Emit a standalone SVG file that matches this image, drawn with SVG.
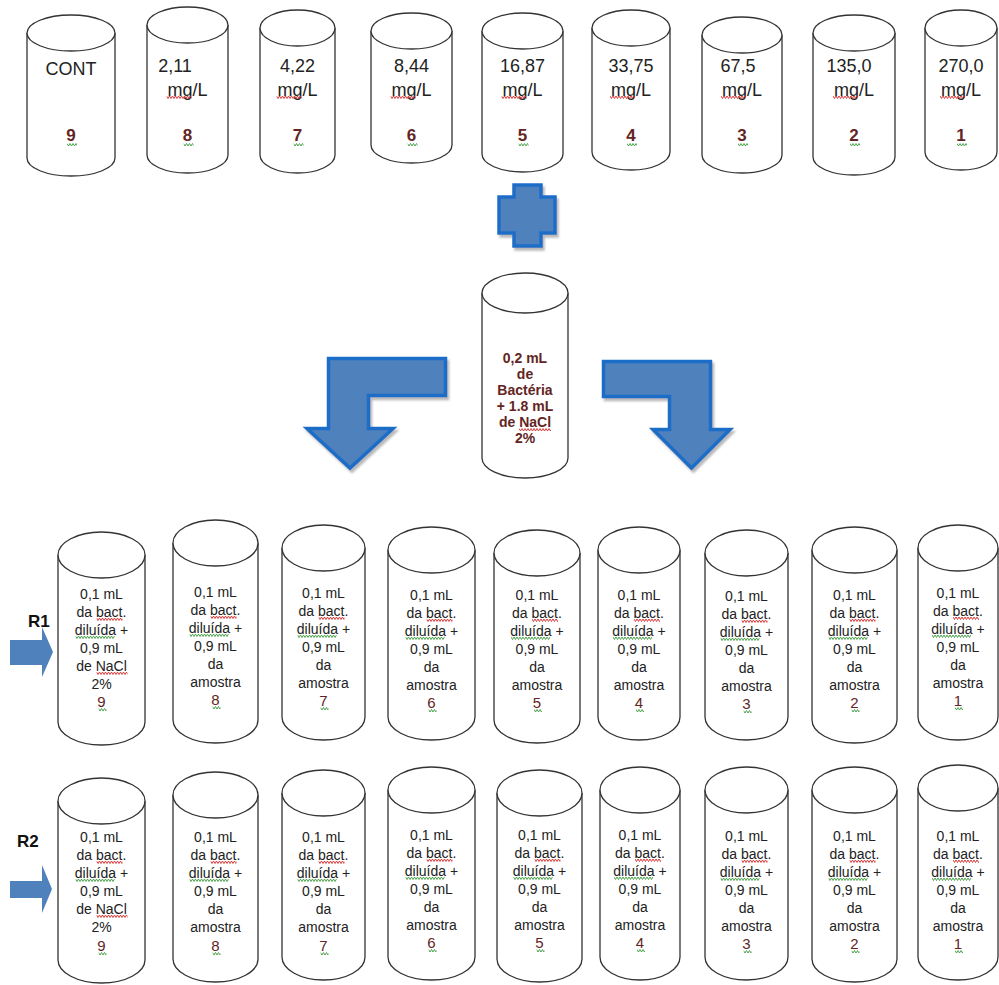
<svg xmlns="http://www.w3.org/2000/svg" xmlns:xlink="http://www.w3.org/1999/xlink" width="999" height="985" viewBox="0 0 999 985">
<style>
.cyl path,.cyl ellipse{fill:#fff;stroke:#333;stroke-width:1.3}
.t{font-family:"Liberation Sans",Arial,sans-serif;fill:#222;text-anchor:middle}
.top{font-size:18px}
.r{font-size:14px}
.num{font-family:"Liberation Sans",Arial,sans-serif;fill:#632523;text-anchor:middle}
.numb{font-size:17px;font-weight:bold}
.numr{font-size:15px}
.mid{font-family:"Liberation Sans",Arial,sans-serif;fill:#632523;text-anchor:middle;font-size:14px;font-weight:bold}
.lbl{font-family:"Liberation Sans",Arial,sans-serif;fill:#111;font-size:17px;font-weight:bold}
.blk{fill:#4f81bd;stroke:#1f6dc7;stroke-width:3.5;stroke-linejoin:miter;filter:url(#sh)}
.rar{fill:#4f81bd}
.sr{stroke:#d62828}
.sg{stroke:#3c9a3c}
</style>
<defs>
<filter id="sh" x="-20%" y="-20%" width="140%" height="140%"><feDropShadow dx="2" dy="3" stdDeviation="1.2" flood-color="#7f7f7f" flood-opacity="0.55"/></filter>
<path id="zz" fill="none" stroke-width="0.9" d="M0,0.5 l1.5,2.5 1.5,-2.5 1.5,2.5 1.5,-2.5 1.5,2.5 1.5,-2.5 1.5,2.5 1.5,-2.5 1.5,2.5 1.5,-2.5 1.5,2.5 1.5,-2.5 1.5,2.5 1.5,-2.5 1.5,2.5 1.5,-2.5 1.5,2.5 1.5,-2.5 1.5,2.5 1.5,-2.5 1.5,2.5 1.5,-2.5 1.5,2.5 1.5,-2.5 1.5,2.5 1.5,-2.5 1.5,2.5 1.5,-2.5 1.5,2.5 1.5,-2.5 1.5,2.5 1.5,-2.5 1.5,2.5 1.5,-2.5 1.5,2.5 1.5,-2.5 1.5,2.5 1.5,-2.5 1.5,2.5 1.5,-2.5"/>
</defs>
<rect width="999" height="985" fill="#fff"/>

<!-- top row -->
<g id="top9" class="cyl"><path d="M27,33 V158 A44,18 0 0 0 115,158 V33"/><ellipse cx="71" cy="33" rx="44" ry="18"/>
<text class="t top" x="71" y="75">CONT</text><text class="num numb" x="71" y="141">9</text>
<svg x="67" y="143" width="10" height="4"><use href="#zz" class="sg"/></svg></g>
<g id="top8" class="cyl"><path d="M147,25 V155 A40.5,18 0 0 0 228,155 V25"/><ellipse cx="187.5" cy="25" rx="40.5" ry="18"/>
<text class="t top" x="175" y="72">2,11</text><text class="t top" x="187.5" y="96">mg/L</text><text class="num numb" x="187.5" y="141">8</text>
<svg x="166.5" y="95.5" width="25" height="4"><use href="#zz" class="sr"/></svg><svg x="183.5" y="143" width="10" height="4"><use href="#zz" class="sg"/></svg></g>
<g id="top7" class="cyl"><path d="M260,28 V155 A37.5,18 0 0 0 335,155 V28"/><ellipse cx="297.5" cy="28" rx="37.5" ry="18"/>
<text class="t top" x="297.5" y="72">4,22</text><text class="t top" x="297.5" y="96">mg/L</text><text class="num numb" x="297.5" y="141">7</text>
<svg x="276.5" y="95.5" width="25" height="4"><use href="#zz" class="sr"/></svg><svg x="293.5" y="143" width="10" height="4"><use href="#zz" class="sg"/></svg></g>
<g id="top6" class="cyl"><path d="M371,31 V145 A40.5,18 0 0 0 452,145 V31"/><ellipse cx="411.5" cy="31" rx="40.5" ry="18"/>
<text class="t top" x="411.5" y="72">8,44</text><text class="t top" x="411.5" y="96">mg/L</text><text class="num numb" x="411.5" y="141">6</text>
<svg x="390.5" y="95.5" width="25" height="4"><use href="#zz" class="sr"/></svg><svg x="407.5" y="143" width="10" height="4"><use href="#zz" class="sg"/></svg></g>
<g id="top5" class="cyl"><path d="M482,31 V154 A40.5,18 0 0 0 563,154 V31"/><ellipse cx="522.5" cy="31" rx="40.5" ry="18"/>
<text class="t top" x="522.5" y="72">16,87</text><text class="t top" x="522.5" y="96">mg/L</text><text class="num numb" x="522.5" y="141">5</text>
<svg x="501.5" y="95.5" width="25" height="4"><use href="#zz" class="sr"/></svg><svg x="518.5" y="143" width="10" height="4"><use href="#zz" class="sg"/></svg></g>
<g id="top4" class="cyl"><path d="M592,28 V152 A39,18 0 0 0 670,152 V28"/><ellipse cx="631" cy="28" rx="39" ry="18"/>
<text class="t top" x="631" y="72">33,75</text><text class="t top" x="631" y="96">mg/L</text><text class="num numb" x="631" y="141">4</text>
<svg x="610" y="95.5" width="25" height="4"><use href="#zz" class="sr"/></svg><svg x="627" y="143" width="10" height="4"><use href="#zz" class="sg"/></svg></g>
<g id="top3" class="cyl"><path d="M702,35 V155 A40,18 0 0 0 782,155 V35"/><ellipse cx="742" cy="35" rx="40" ry="18"/>
<text class="t top" x="738" y="72">67,5</text><text class="t top" x="742" y="96">mg/L</text><text class="num numb" x="742" y="141">3</text>
<svg x="721" y="95.5" width="25" height="4"><use href="#zz" class="sr"/></svg><svg x="738" y="143" width="10" height="4"><use href="#zz" class="sg"/></svg></g>
<g id="top2" class="cyl"><path d="M813,33 V157 A41,18 0 0 0 895,157 V33"/><ellipse cx="854" cy="33" rx="41" ry="18"/>
<text class="t top" x="849" y="72">135,0</text><text class="t top" x="854" y="96">mg/L</text><text class="num numb" x="854" y="141">2</text>
<svg x="833" y="95.5" width="25" height="4"><use href="#zz" class="sr"/></svg><svg x="850" y="143" width="10" height="4"><use href="#zz" class="sg"/></svg></g>
<g id="top1" class="cyl"><path d="M925,28 V152 A36,18 0 0 0 997,152 V28"/><ellipse cx="961" cy="28" rx="36" ry="18"/>
<text class="t top" x="961" y="72">270,0</text><text class="t top" x="961" y="96">mg/L</text><text class="num numb" x="961" y="141">1</text>
<svg x="940" y="95.5" width="25" height="4"><use href="#zz" class="sr"/></svg><svg x="957" y="143" width="10" height="4"><use href="#zz" class="sg"/></svg></g>

<!-- plus -->
<g id="plus"><path class="blk" d="M514,185 H541 V197 H555 V233 H541 V246 H514 V233 H499 V197 H514 Z"/></g>

<!-- middle cylinder -->
<g id="bacteria" class="cyl"><path d="M482,293 V458 A43,20 0 0 0 568,458 V293"/><ellipse cx="525" cy="293" rx="43" ry="20"/>
<text class="mid" y="363"><tspan x="525">0,2 mL</tspan><tspan x="525" dy="16">de</tspan><tspan x="525" dy="16">Bactéria</tspan><tspan x="525" dy="16">+ 1.8 mL</tspan><tspan x="525" dy="16">de NaCl</tspan><tspan x="525" dy="16">2%</tspan></text>
<svg x="519" y="428" width="32" height="4"><use href="#zz" class="sr"/></svg></g>

<!-- connectors -->
<g id="connectors">
<path class="blk" d="M445.5,358.5 H328.5 V428.5 H307 L350,468 L393,428.5 H368.5 V395.5 H445.5 Z"/>
<path class="blk" d="M603.5,361.5 H710.5 V429.5 H730 L691.5,468 L653,429.5 H669.5 V396.5 H603.5 Z"/>
<path class="rar" d="M10,640 H42 V627 L53,652 L42,677 V665 H10 Z"/>
<path class="rar" d="M10,881 H42 V865 L52,889 L42,913 V898 H10 Z"/>
</g>
<text id="lblR1" class="lbl" x="28" y="627">R1</text>
<text id="lblR2" class="lbl" x="17" y="847">R2</text>

<!-- R1 row -->
<g id="r1c9" class="cyl"><path d="M58,555 V722 A43.5,23 0 0 0 145,722 V555"/><ellipse cx="101.5" cy="555" rx="43.5" ry="23"/>
<text class="t r" y="599"><tspan x="101.5">0,1 mL</tspan><tspan x="101.5" dy="18">da bact.</tspan><tspan x="101.5" dy="18">diluída +</tspan><tspan x="101.5" dy="18">0,9 mL</tspan><tspan x="101.5" dy="18">de NaCl</tspan><tspan x="101.5" dy="18">2%</tspan></text><text class="num numr" x="101.5" y="707">9</text>
<svg x="96.5" y="617.5" width="26" height="4"><use href="#zz" class="sr"/></svg><svg x="75.5" y="635.5" width="39" height="4"><use href="#zz" class="sg"/></svg><svg x="96.5" y="671.5" width="31" height="4"><use href="#zz" class="sr"/></svg><svg x="98.5" y="708" width="8" height="4"><use href="#zz" class="sg"/></svg></g>
<g id="r1c8" class="cyl"><path d="M173,543 V720 A42.5,23 0 0 0 258,720 V543"/><ellipse cx="215.5" cy="543" rx="42.5" ry="23"/>
<text class="t r" y="597"><tspan x="215.5">0,1 mL</tspan><tspan x="215.5" dy="18">da bact.</tspan><tspan x="215.5" dy="18">diluída +</tspan><tspan x="215.5" dy="18">0,9 mL</tspan><tspan x="215.5" dy="18">da</tspan><tspan x="215.5" dy="18">amostra</tspan></text><text class="num numr" x="215.5" y="705">8</text>
<svg x="210.5" y="615.5" width="26" height="4"><use href="#zz" class="sr"/></svg><svg x="189.5" y="633.5" width="39" height="4"><use href="#zz" class="sg"/></svg><svg x="212.5" y="706" width="8" height="4"><use href="#zz" class="sg"/></svg></g>
<g id="r1c7" class="cyl"><path d="M282,548 V717 A41.5,23 0 0 0 365,717 V548"/><ellipse cx="323.5" cy="548" rx="41.5" ry="23"/>
<text class="t r" y="598"><tspan x="323.5">0,1 mL</tspan><tspan x="323.5" dy="18">da bact.</tspan><tspan x="323.5" dy="18">diluída +</tspan><tspan x="323.5" dy="18">0,9 mL</tspan><tspan x="323.5" dy="18">da</tspan><tspan x="323.5" dy="18">amostra</tspan></text><text class="num numr" x="323.5" y="706">7</text>
<svg x="318.5" y="616.5" width="26" height="4"><use href="#zz" class="sr"/></svg><svg x="297.5" y="634.5" width="39" height="4"><use href="#zz" class="sg"/></svg><svg x="320.5" y="707" width="8" height="4"><use href="#zz" class="sg"/></svg></g>
<g id="r1c6" class="cyl"><path d="M388,550 V717 A43.5,23 0 0 0 475,717 V550"/><ellipse cx="431.5" cy="550" rx="43.5" ry="23"/>
<text class="t r" y="600"><tspan x="431.5">0,1 mL</tspan><tspan x="431.5" dy="18">da bact.</tspan><tspan x="431.5" dy="18">diluída +</tspan><tspan x="431.5" dy="18">0,9 mL</tspan><tspan x="431.5" dy="18">da</tspan><tspan x="431.5" dy="18">amostra</tspan></text><text class="num numr" x="431.5" y="708">6</text>
<svg x="426.5" y="618.5" width="26" height="4"><use href="#zz" class="sr"/></svg><svg x="405.5" y="636.5" width="39" height="4"><use href="#zz" class="sg"/></svg><svg x="428.5" y="709" width="8" height="4"><use href="#zz" class="sg"/></svg></g>
<g id="r1c5" class="cyl"><path d="M494,553 V720 A43,23 0 0 0 580,720 V553"/><ellipse cx="537" cy="553" rx="43" ry="23"/>
<text class="t r" y="600"><tspan x="537">0,1 mL</tspan><tspan x="537" dy="18">da bact.</tspan><tspan x="537" dy="18">diluída +</tspan><tspan x="537" dy="18">0,9 mL</tspan><tspan x="537" dy="18">da</tspan><tspan x="537" dy="18">amostra</tspan></text><text class="num numr" x="537" y="708">5</text>
<svg x="532" y="618.5" width="26" height="4"><use href="#zz" class="sr"/></svg><svg x="511" y="636.5" width="39" height="4"><use href="#zz" class="sg"/></svg><svg x="534" y="709" width="8" height="4"><use href="#zz" class="sg"/></svg></g>
<g id="r1c4" class="cyl"><path d="M598,550 V717 A41,23 0 0 0 680,717 V550"/><ellipse cx="639" cy="550" rx="41" ry="23"/>
<text class="t r" y="600"><tspan x="639">0,1 mL</tspan><tspan x="639" dy="18">da bact.</tspan><tspan x="639" dy="18">diluída +</tspan><tspan x="639" dy="18">0,9 mL</tspan><tspan x="639" dy="18">da</tspan><tspan x="639" dy="18">amostra</tspan></text><text class="num numr" x="639" y="708">4</text>
<svg x="634" y="618.5" width="26" height="4"><use href="#zz" class="sr"/></svg><svg x="613" y="636.5" width="39" height="4"><use href="#zz" class="sg"/></svg><svg x="636" y="709" width="8" height="4"><use href="#zz" class="sg"/></svg></g>
<g id="r1c3" class="cyl"><path d="M705,553 V717 A41.5,23 0 0 0 788,717 V553"/><ellipse cx="746.5" cy="553" rx="41.5" ry="23"/>
<text class="t r" y="601"><tspan x="746.5">0,1 mL</tspan><tspan x="746.5" dy="18">da bact.</tspan><tspan x="746.5" dy="18">diluída +</tspan><tspan x="746.5" dy="18">0,9 mL</tspan><tspan x="746.5" dy="18">da</tspan><tspan x="746.5" dy="18">amostra</tspan></text><text class="num numr" x="746.5" y="709">3</text>
<svg x="741.5" y="619.5" width="26" height="4"><use href="#zz" class="sr"/></svg><svg x="720.5" y="637.5" width="39" height="4"><use href="#zz" class="sg"/></svg><svg x="743.5" y="710" width="8" height="4"><use href="#zz" class="sg"/></svg></g>
<g id="r1c2" class="cyl"><path d="M812,550 V720 A42.5,23 0 0 0 897,720 V550"/><ellipse cx="854.5" cy="550" rx="42.5" ry="23"/>
<text class="t r" y="600"><tspan x="854.5">0,1 mL</tspan><tspan x="854.5" dy="18">da bact.</tspan><tspan x="854.5" dy="18">diluída +</tspan><tspan x="854.5" dy="18">0,9 mL</tspan><tspan x="854.5" dy="18">da</tspan><tspan x="854.5" dy="18">amostra</tspan></text><text class="num numr" x="854.5" y="708">2</text>
<svg x="849.5" y="618.5" width="26" height="4"><use href="#zz" class="sr"/></svg><svg x="828.5" y="636.5" width="39" height="4"><use href="#zz" class="sg"/></svg><svg x="851.5" y="709" width="8" height="4"><use href="#zz" class="sg"/></svg></g>
<g id="r1c1" class="cyl"><path d="M918,548 V717 A40,23 0 0 0 998,717 V548"/><ellipse cx="958" cy="548" rx="40" ry="23"/>
<text class="t r" y="598"><tspan x="958">0,1 mL</tspan><tspan x="958" dy="18">da bact.</tspan><tspan x="958" dy="18">diluída +</tspan><tspan x="958" dy="18">0,9 mL</tspan><tspan x="958" dy="18">da</tspan><tspan x="958" dy="18">amostra</tspan></text><text class="num numr" x="958" y="706">1</text>
<svg x="953" y="616.5" width="26" height="4"><use href="#zz" class="sr"/></svg><svg x="932" y="634.5" width="39" height="4"><use href="#zz" class="sg"/></svg><svg x="955" y="707" width="8" height="4"><use href="#zz" class="sg"/></svg></g>

<!-- R2 row -->
<g id="r2c9" class="cyl"><path d="M58,801 V960 A43.5,23 0 0 0 145,960 V801"/><ellipse cx="101.5" cy="801" rx="43.5" ry="23"/>
<text class="t r" y="842"><tspan x="101.5">0,1 mL</tspan><tspan x="101.5" dy="18">da bact.</tspan><tspan x="101.5" dy="18">diluída +</tspan><tspan x="101.5" dy="18">0,9 mL</tspan><tspan x="101.5" dy="18">de NaCl</tspan><tspan x="101.5" dy="18">2%</tspan></text><text class="num numr" x="101.5" y="951">9</text>
<svg x="96.5" y="860.5" width="26" height="4"><use href="#zz" class="sr"/></svg><svg x="75.5" y="878.5" width="39" height="4"><use href="#zz" class="sg"/></svg><svg x="96.5" y="914.5" width="31" height="4"><use href="#zz" class="sr"/></svg><svg x="98.5" y="952" width="8" height="4"><use href="#zz" class="sg"/></svg></g>
<g id="r2c8" class="cyl"><path d="M173,795 V959 A42.5,23 0 0 0 258,959 V795"/><ellipse cx="215.5" cy="795" rx="42.5" ry="23"/>
<text class="t r" y="842"><tspan x="215.5">0,1 mL</tspan><tspan x="215.5" dy="18">da bact.</tspan><tspan x="215.5" dy="18">diluída +</tspan><tspan x="215.5" dy="18">0,9 mL</tspan><tspan x="215.5" dy="18">da</tspan><tspan x="215.5" dy="18">amostra</tspan></text><text class="num numr" x="215.5" y="951">8</text>
<svg x="210.5" y="860.5" width="26" height="4"><use href="#zz" class="sr"/></svg><svg x="189.5" y="878.5" width="39" height="4"><use href="#zz" class="sg"/></svg><svg x="212.5" y="952" width="8" height="4"><use href="#zz" class="sg"/></svg></g>
<g id="r2c7" class="cyl"><path d="M282,793 V957 A41.5,23 0 0 0 365,957 V793"/><ellipse cx="323.5" cy="793" rx="41.5" ry="23"/>
<text class="t r" y="842"><tspan x="323.5">0,1 mL</tspan><tspan x="323.5" dy="18">da bact.</tspan><tspan x="323.5" dy="18">diluída +</tspan><tspan x="323.5" dy="18">0,9 mL</tspan><tspan x="323.5" dy="18">da</tspan><tspan x="323.5" dy="18">amostra</tspan></text><text class="num numr" x="323.5" y="951">7</text>
<svg x="318.5" y="860.5" width="26" height="4"><use href="#zz" class="sr"/></svg><svg x="297.5" y="878.5" width="39" height="4"><use href="#zz" class="sg"/></svg><svg x="320.5" y="952" width="8" height="4"><use href="#zz" class="sg"/></svg></g>
<g id="r2c6" class="cyl"><path d="M388,790 V957 A43.5,23 0 0 0 475,957 V790"/><ellipse cx="431.5" cy="790" rx="43.5" ry="23"/>
<text class="t r" y="840"><tspan x="431.5">0,1 mL</tspan><tspan x="431.5" dy="18">da bact.</tspan><tspan x="431.5" dy="18">diluída +</tspan><tspan x="431.5" dy="18">0,9 mL</tspan><tspan x="431.5" dy="18">da</tspan><tspan x="431.5" dy="18">amostra</tspan></text><text class="num numr" x="431.5" y="948">6</text>
<svg x="426.5" y="858.5" width="26" height="4"><use href="#zz" class="sr"/></svg><svg x="405.5" y="876.5" width="39" height="4"><use href="#zz" class="sg"/></svg><svg x="428.5" y="949" width="8" height="4"><use href="#zz" class="sg"/></svg></g>
<g id="r2c5" class="cyl"><path d="M497,793 V959 A42.5,23 0 0 0 582,959 V793"/><ellipse cx="539.5" cy="793" rx="42.5" ry="23"/>
<text class="t r" y="840"><tspan x="539.5">0,1 mL</tspan><tspan x="539.5" dy="18">da bact.</tspan><tspan x="539.5" dy="18">diluída +</tspan><tspan x="539.5" dy="18">0,9 mL</tspan><tspan x="539.5" dy="18">da</tspan><tspan x="539.5" dy="18">amostra</tspan></text><text class="num numr" x="539.5" y="948">5</text>
<svg x="534.5" y="858.5" width="26" height="4"><use href="#zz" class="sr"/></svg><svg x="513.5" y="876.5" width="39" height="4"><use href="#zz" class="sg"/></svg><svg x="536.5" y="949" width="8" height="4"><use href="#zz" class="sg"/></svg></g>
<g id="r2c4" class="cyl"><path d="M600,790 V957 A40,23 0 0 0 680,957 V790"/><ellipse cx="640" cy="790" rx="40" ry="23"/>
<text class="t r" y="840"><tspan x="640">0,1 mL</tspan><tspan x="640" dy="18">da bact.</tspan><tspan x="640" dy="18">diluída +</tspan><tspan x="640" dy="18">0,9 mL</tspan><tspan x="640" dy="18">da</tspan><tspan x="640" dy="18">amostra</tspan></text><text class="num numr" x="640" y="948">4</text>
<svg x="635" y="858.5" width="26" height="4"><use href="#zz" class="sr"/></svg><svg x="614" y="876.5" width="39" height="4"><use href="#zz" class="sg"/></svg><svg x="637" y="949" width="8" height="4"><use href="#zz" class="sg"/></svg></g>
<g id="r2c3" class="cyl"><path d="M705,790 V957 A41.5,23 0 0 0 788,957 V790"/><ellipse cx="746.5" cy="790" rx="41.5" ry="23"/>
<text class="t r" y="841"><tspan x="746.5">0,1 mL</tspan><tspan x="746.5" dy="18">da bact.</tspan><tspan x="746.5" dy="18">diluída +</tspan><tspan x="746.5" dy="18">0,9 mL</tspan><tspan x="746.5" dy="18">da</tspan><tspan x="746.5" dy="18">amostra</tspan></text><text class="num numr" x="746.5" y="949">3</text>
<svg x="741.5" y="859.5" width="26" height="4"><use href="#zz" class="sr"/></svg><svg x="720.5" y="877.5" width="39" height="4"><use href="#zz" class="sg"/></svg><svg x="743.5" y="950" width="8" height="4"><use href="#zz" class="sg"/></svg></g>
<g id="r2c2" class="cyl"><path d="M812,790 V959 A42.5,23 0 0 0 897,959 V790"/><ellipse cx="854.5" cy="790" rx="42.5" ry="23"/>
<text class="t r" y="841"><tspan x="854.5">0,1 mL</tspan><tspan x="854.5" dy="18">da bact.</tspan><tspan x="854.5" dy="18">diluída +</tspan><tspan x="854.5" dy="18">0,9 mL</tspan><tspan x="854.5" dy="18">da</tspan><tspan x="854.5" dy="18">amostra</tspan></text><text class="num numr" x="854.5" y="949">2</text>
<svg x="849.5" y="859.5" width="26" height="4"><use href="#zz" class="sr"/></svg><svg x="828.5" y="877.5" width="39" height="4"><use href="#zz" class="sg"/></svg><svg x="851.5" y="950" width="8" height="4"><use href="#zz" class="sg"/></svg></g>
<g id="r2c1" class="cyl"><path d="M918,788 V957 A40,23 0 0 0 998,957 V788"/><ellipse cx="958" cy="788" rx="40" ry="23"/>
<text class="t r" y="841"><tspan x="958">0,1 mL</tspan><tspan x="958" dy="18">da bact.</tspan><tspan x="958" dy="18">diluída +</tspan><tspan x="958" dy="18">0,9 mL</tspan><tspan x="958" dy="18">da</tspan><tspan x="958" dy="18">amostra</tspan></text><text class="num numr" x="958" y="949">1</text>
<svg x="953" y="859.5" width="26" height="4"><use href="#zz" class="sr"/></svg><svg x="932" y="877.5" width="39" height="4"><use href="#zz" class="sg"/></svg><svg x="955" y="950" width="8" height="4"><use href="#zz" class="sg"/></svg></g>
</svg>
